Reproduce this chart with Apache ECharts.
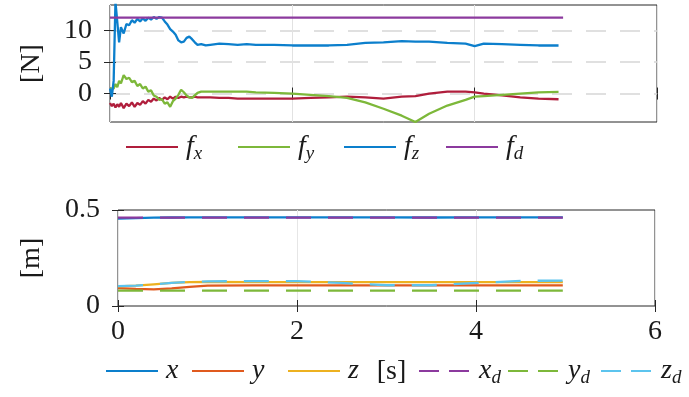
<!DOCTYPE html>
<html><head><meta charset="utf-8">
<script src="https://cdn.jsdelivr.net/npm/echarts@6/dist/echarts.min.js"></script>
<style>html,body{margin:0;padding:0;background:#fff}#c{width:689px;height:397px}</style>
</head><body><div id="c"></div>
<script>
// ---- data: forces (top panel) ----
const tF = [0,0.02,0.04,0.06,0.08,0.1,0.12,0.15,0.18,0.21,
  0.24,0.27,0.3,0.33,0.36,0.39,0.42,0.45,0.48,0.51,
  0.54,0.57,0.6,0.63,0.66,0.69,0.72,0.75,0.78,0.81,
  0.84,0.87,0.9,0.93,0.96,1.0,1.05,1.1,1.2,1.3,
  1.4,1.5,1.6,1.8,2.0,2.2,2.4,2.6,2.8,3.0,
  3.2,3.35,3.5,3.7,3.9,4.0,4.1,4.3,4.5,4.7,4.92];
const fx = [-1.5,-2.0,-1.6,-2.2,-1.7,-2.1,-1.5,-2.3,-1.6,-2.0,
  -1.4,-2.1,-1.5,-1.8,-1.2,-1.6,-1.0,-1.3,-0.8,-1.1,
  -0.7,-1.0,-0.6,-0.9,-0.5,-0.8,-0.5,-0.7,-0.5,-0.6,
  -0.5,-0.6,-0.6,-0.5,-0.6,-0.6,-0.6,-0.6,-0.7,-0.7,
  -0.8,-0.8,-0.8,-0.8,-0.8,-0.7,-0.6,-0.5,-0.6,-0.8,
  -0.5,-0.4,0.0,0.3,0.3,0.2,0.0,-0.3,-0.6,-0.8,-0.9];
const fy = [0.8,0.5,0.8,1.5,1.0,2.0,1.6,2.9,2.3,2.5,
  1.8,2.0,1.2,1.5,0.8,1.1,0.3,0.5,-0.3,-0.5,
  -1.0,-0.9,-1.6,-1.4,-2.1,-1.2,-0.8,-0.2,0.6,0.2,
  -0.3,-0.6,-0.7,-0.3,0.1,0.3,0.3,0.3,0.3,0.3,
  0.3,0.3,0.2,0.1,0.0,-0.2,-0.4,-0.7,-1.4,-2.4,
  -3.5,-4.5,-3.2,-1.9,-1.0,-0.5,-0.4,-0.2,0.0,0.2,0.25];
const fz = [0.8,-0.5,2.0,14.5,14.5,8.1,10.5,9.5,11.0,10.8,
  11.6,11.2,11.8,11.4,11.9,11.5,12.0,11.7,12.1,11.8,
  12.1,12.0,11.4,10.9,10.2,9.8,9.3,8.4,8.1,8.2,
  8.8,9.0,8.6,8.1,7.7,7.8,7.6,7.7,7.9,7.8,
  7.7,7.8,7.7,7.7,7.6,7.6,7.6,7.7,8.0,8.1,
  8.3,8.2,8.2,8.0,7.9,7.5,7.9,7.8,7.7,7.6,7.6];
const tFd = [0, 4.97];
const fd = [12, 12];
// ---- data: positions (bottom panel) ----
const tP = [0,0.2,0.4,0.6,0.8,1.0,1.5,2.0,2.5,3.0,3.5,4.0,4.5,4.97];
const px  = [0.455,0.458,0.460,0.461,0.462,0.462,0.462,0.462,0.462,0.462,0.461,0.462,0.462,0.462];
const py  = [0.093,0.089,0.087,0.092,0.100,0.106,0.107,0.107,0.107,0.107,0.107,0.107,0.107,0.107];
const pz  = [0.102,0.106,0.113,0.120,0.124,0.125,0.124,0.124,0.124,0.124,0.124,0.124,0.124,0.124];
const pxd = [0.460,0.460,0.460,0.460,0.460,0.460,0.460,0.460,0.460,0.460,0.460,0.460,0.460,0.460];
const pyd = [0.080,0.080,0.080,0.080,0.080,0.080,0.080,0.080,0.080,0.080,0.080,0.080,0.080,0.080];
const pzd = [0.104,0.106,0.112,0.120,0.126,0.128,0.130,0.130,0.120,0.108,0.108,0.120,0.131,0.132];
// ---- ticks ----
const xTicks = [0, 2, 4, 6];
const fTicks = [0, 5, 10];
const mTicks = [0, 0.5];

const pair = (t, v) => t.map((x, i) => [x, v[i]]);
const FONT = 'Liberation Serif';
const AX = '#262626';
const labels = {
  fx: '{i|f}{s|x}', fy: '{i|f}{s|y}', fz: '{i|f}{s|z}', fd: '{i|f}{s|d}',
  x: '{i|x}', y: '{i|y}', z: '{i|z}', xd: '{i|x}{s|d}', yd: '{i|y}{s|d}', zd: '{i|z}{s|d}'
};
const rich = {
  i: {fontFamily: FONT, fontStyle: 'italic', fontSize: 28, lineHeight: 32, color: '#1a1a1a', padding: [0,0,0,3]},
  s: {fontFamily: FONT, fontStyle: 'italic', fontSize: 19, lineHeight: 16, color: '#1a1a1a', verticalAlign: 'bottom'}
};
function leg(name, left, top, dash) {
  const item = {name: name, itemStyle: {color: 'rgba(0,0,0,0)', borderWidth: 0, opacity: 0}};
  if (dash) item.lineStyle = {type: dash};
  return {
    data: [item],
    left: left, top: top, padding: 0, itemWidth: 52, itemHeight: 32,
    selectedMode: false, formatter: n => labels[n],
    itemStyle: {color: 'rgba(0,0,0,0)', borderWidth: 0, opacity: 0},
    textStyle: {rich: rich}
  };
}
const tickStyle = {inside: true, length: 6, lineStyle: {color: AX, width: 1}};
function line(name, t, v, color, xi, yi, dash) {
  return {
    name: name, type: 'line', data: pair(t, v), xAxisIndex: xi, yAxisIndex: yi,
    symbol: 'none', animation: false, color: color,
    lineStyle: {color: color, width: 2.3, type: dash || 'solid'}
  };
}
const xBase = {type: 'value', min: 0, max: 6, interval: 2, axisLine: {show: false}, axisTick: tickStyle};
const option = {
  backgroundColor: '#fff',
  animation: false,
  grid: [
    {left: 110, top: 5, width: 547, height: 117, show: true, borderColor: AX, borderWidth: 1, backgroundColor: '#fff'},
    {left: 118, top: 210, width: 537, height: 96, show: true, borderColor: AX, borderWidth: 1, backgroundColor: '#fff'}
  ],
  xAxis: [
    Object.assign({}, xBase, {gridIndex: 0, position: 'bottom', axisLabel: {show: false},
      splitLine: {show: true, lineStyle: {color: '#e2e2e2', width: 1}}}),
    Object.assign({}, xBase, {gridIndex: 0, position: 'top', axisLabel: {show: false}, splitLine: {show: false}}),
    Object.assign({}, xBase, {gridIndex: 1, position: 'bottom',
      axisLabel: {show: true, customValues: xTicks, margin: 12, fontFamily: FONT, fontSize: 28, color: '#1a1a1a'},
      splitLine: {show: true, lineStyle: {color: '#e6e6e6', width: 1}},
      name: '[s]', nameLocation: 'middle', nameGap: 52,
      nameTextStyle: {fontFamily: FONT, fontSize: 28, color: '#1a1a1a', padding: [0, 0, 0, 10]}}),
    Object.assign({}, xBase, {gridIndex: 1, position: 'top', axisLabel: {show: false}, splitLine: {show: false}})
  ],
  yAxis: [
    {gridIndex: 0, type: 'value', min: -4.5, max: 14, position: 'left', axisLine: {show: false},
      axisTick: Object.assign({customValues: fTicks}, tickStyle),
      axisLabel: {customValues: fTicks, margin: 18, fontFamily: FONT, fontSize: 28, color: '#1a1a1a'},
      splitLine: {show: true, lineStyle: {color: '#d6d6d6', width: 1.5, type: [20, 14]}},
      name: '[N]', nameLocation: 'middle', nameGap: 64, nameRotate: 90,
      nameTextStyle: {fontFamily: FONT, fontSize: 28, color: '#1a1a1a'}},
    {gridIndex: 0, type: 'value', min: -4.5, max: 14, position: 'right', axisLine: {show: false},
      axisTick: Object.assign({customValues: fTicks}, tickStyle), axisLabel: {show: false}, splitLine: {show: false}},
    {gridIndex: 1, type: 'value', min: 0, max: 0.5, interval: 0.5, position: 'left', axisLine: {show: false},
      axisTick: tickStyle,
      axisLabel: {customValues: mTicks, margin: 18, fontFamily: FONT, fontSize: 28, color: '#1a1a1a'},
      splitLine: {show: false},
      name: '[m]', nameLocation: 'middle', nameGap: 72, nameRotate: 90,
      nameTextStyle: {fontFamily: FONT, fontSize: 28, color: '#1a1a1a'}},
    {gridIndex: 1, type: 'value', min: 0, max: 0.5, interval: 0.5, position: 'right', axisLine: {show: false},
      axisTick: tickStyle, axisLabel: {show: false}, splitLine: {show: false}}
  ],
  legend: [
    leg('fx', 125, 133), leg('fy', 237, 133), leg('fz', 343, 133), leg('fd', 445, 133),
    leg('x', 105, 357), leg('y', 191, 357), leg('z', 287, 357),
    leg('xd', 418, 357, [20, 10]), leg('yd', 507, 357, [20, 10]), leg('zd', 600, 357, [20, 10])
  ],
  series: [
    line('fx', tF, fx, '#B01E3C', 0, 0),
    line('fy', tF, fy, '#7DB83A', 0, 0),
    line('fz', tF, fz, '#0C7FCC', 0, 0),
    line('fd', tFd, fd, '#8C3A9E', 0, 0),
    line('x', tP, px, '#0C7FCC', 2, 2),
    line('y', tP, py, '#E05A1E', 2, 2),
    line('z', tP, pz, '#EDB120', 2, 2),
    line('xd', tP, pxd, '#8C3A9E', 2, 2, [25, 17]),
    line('yd', tP, pyd, '#7DB83A', 2, 2, [25, 17]),
    line('zd', tP, pzd, '#5CC4EE', 2, 2, [25, 17])
  ]
};
echarts.init(document.getElementById('c')).setOption(option);
</script></body></html>
